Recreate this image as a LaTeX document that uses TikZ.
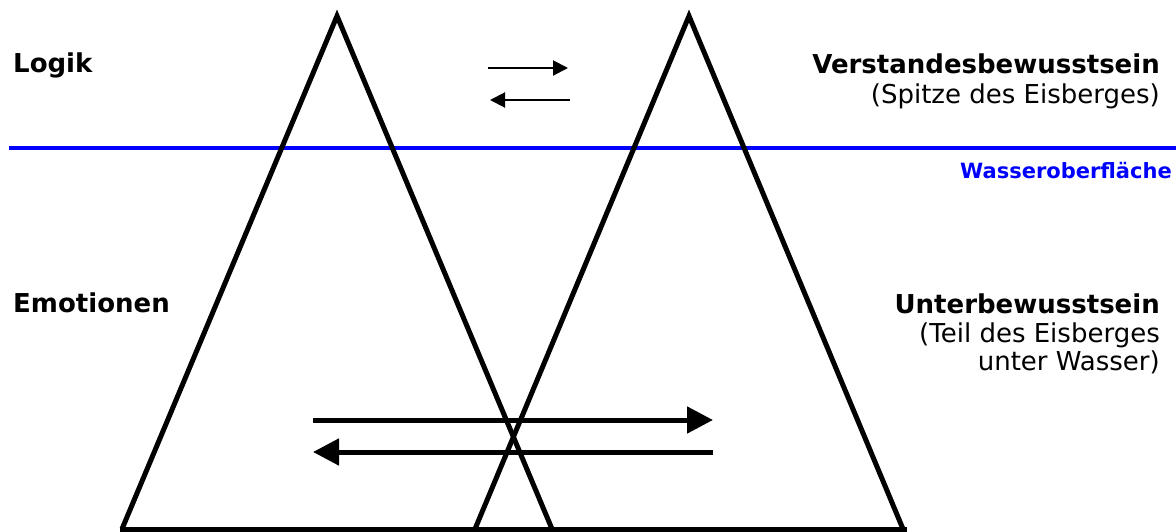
\documentclass[tikz,border=0pt]{standalone}
\usepackage{fontspec}
\setmainfont{DejaVu Sans}
\usetikzlibrary{arrows.meta}
\begin{document}
\begin{tikzpicture}[x=1pt,y=-1pt,
  berg/.style={line width=5pt, line join=miter},
  water/.style={line width=4.5pt, draw={rgb,255:red,0;green,0;blue,255}},
  bigarrow/.style={line width=5pt, -{Triangle[length=26pt,width=26pt]}},
  smallarrow/.style={line width=2pt, -{Triangle[length=15pt,width=15pt]}},
  lbl/.style={inner sep=0pt, font=\fontsize{26}{29}\selectfont\bfseries},
  sub/.style={inner sep=0pt, font=\fontsize{26}{29}\selectfont, align=right},
  wlbl/.style={inner sep=0pt, text={rgb,255:red,0;green,0;blue,255}, font=\fontsize{21}{25}\selectfont\bfseries}]
\useasboundingbox (0,0) rectangle (1176,531);
% water surface
\coordinate (w1) at (9,148);
\coordinate (w2) at (1176,148);
\draw[water] (w1) -- (w2);
% icebergs
\coordinate (a1) at (337,16);
\coordinate (l1) at (122,529);
\coordinate (r1) at (552,529);
\coordinate (a2) at (689,16);
\coordinate (l2) at (475,529);
\coordinate (r2) at (903,529);
\draw[berg] (l1) -- (a1) -- (r1);
\draw[berg] (l2) -- (a2) -- (r2);
\draw[berg, line cap=butt] (120,529) -- (907,529);
% small arrows
\coordinate (s1) at (488,68);
\coordinate (s2) at (568,68);
\coordinate (s3) at (570,100);
\coordinate (s4) at (490,100);
\draw[smallarrow] (s1) -- (s2);
\draw[smallarrow] (s3) -- (s4);
% big arrows
\coordinate (b1) at (313,420);
\coordinate (b2) at (713,420);
\coordinate (b3) at (713,452);
\coordinate (b4) at (313,452);
\draw[bigarrow] (b1) -- (b2);
\draw[bigarrow] (b3) -- (b4);
% labels
\node[lbl, anchor=base west] (logik) at (13,72) {Logik};
\node[lbl, anchor=base west] (emo) at (13,312) {Emotionen};
\node[lbl, anchor=base east] (vb) at (1160,73) {Verstandesbewusstsein};
\node[sub, anchor=base east] (vbs) at (1160,103) {(Spitze des Eisberges)};
\node[lbl, anchor=base east] (ub) at (1160,313) {Unterbewusstsein};
\node[sub, anchor=base east] (ubs1) at (1160,342) {(Teil des Eisberges};
\node[sub, anchor=base east] (ubs2) at (1160,370) {unter Wasser)};
\node[wlbl, anchor=base east] (wo) at (1172,178) {Wasseroberfläche};
\end{tikzpicture}
\end{document}
